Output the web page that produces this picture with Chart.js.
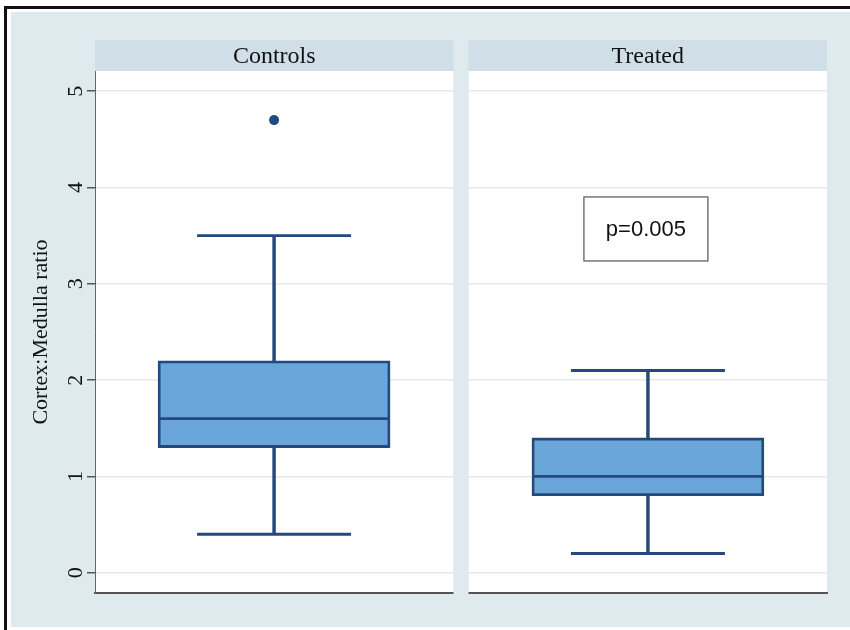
<!DOCTYPE html>
<html lang="en">
<head>
    <meta charset="UTF-8">
    <title>Cortex:Medulla ratio</title>
    <script src="https://cdn.jsdelivr.net/npm/chart.js"></script>
    <style>
        body { margin: 0; background: #fff; }
    </style>
</head>
<body>
    <canvas id="boxChart" width="850" height="630"></canvas>

    <script>
        // box plot values
        const categories = ['Controls', 'Treated'];
        const whiskerLow = [0.4, 0.2];
        const q1 = [1.3, 0.8];
        const median = [1.6, 1.0];
        const q3 = [2.2, 1.4];
        const whiskerHigh = [3.5, 2.1];
        const outliers = [[4.7], []];
        const yTicks = [0, 1, 2, 3, 4, 5];
        const yTitle = 'Cortex:Medulla ratio';
        const pValueText = 'p=0.005';

        const navy = '#26497c';
        const boxFill = '#6aa6da';
        const pageBg = '#dfeaee';
        const stripBg = '#d0dfe7';

        const idx = categories.map((c, i) => i);

        const stataPanels = {
            id: 'stataPanels',
            panels(chart) {
                const a = chart.chartArea;
                const mid = chart.scales.x.getPixelForValue(0.5);
                return [[a.left, mid - 7.5], [mid + 7.5, a.right]];
            },
            beforeDraw(chart) {
                const ctx = chart.ctx;
                const a = chart.chartArea;
                ctx.save();
                ctx.fillStyle = '#fff';
                ctx.fillRect(0, 0, chart.width, chart.height);
                ctx.fillStyle = '#111';
                ctx.fillRect(4, 6, 3, chart.height - 6);
                ctx.fillRect(4, 6, chart.width - 4, 3);
                ctx.fillStyle = pageBg;
                ctx.fillRect(11, 12, chart.width - 11, 615);
                this.panels(chart).forEach(([l, r]) => {
                    ctx.fillStyle = '#fff';
                    ctx.fillRect(l, a.top, r - l, a.bottom - a.top);
                    ctx.fillStyle = stripBg;
                    ctx.fillRect(l, 40, r - l, a.top - 40);
                });
                ctx.restore();
            },
            beforeDatasetsDraw(chart) {
                const ctx = chart.ctx;
                const a = chart.chartArea;
                const [p1, p2] = this.panels(chart);
                ctx.save();
                ctx.fillStyle = pageBg;
                ctx.fillRect(p1[1], a.top, p2[0] - p1[1], a.bottom - a.top + 4);
                ctx.restore();
            },
            afterDraw(chart) {
                const ctx = chart.ctx;
                const a = chart.chartArea;
                const y = chart.scales.y;
                const x = chart.scales.x;
                ctx.save();
                ctx.fillStyle = '#111';
                ctx.textAlign = 'center';
                ctx.textBaseline = 'middle';

                // strip labels
                ctx.font = '24px "Liberation Serif", serif';
                this.panels(chart).forEach(([l, r], i) => {
                    ctx.fillText(categories[i], (l + r) / 2, (40 + a.top) / 2 + 1);
                });

                // rotated tick labels
                ctx.font = '22px "Liberation Serif", serif';
                yTicks.forEach(v => {
                    ctx.save();
                    ctx.translate(76, y.getPixelForValue(v));
                    ctx.rotate(-Math.PI / 2);
                    ctx.fillText(String(v), 0, 0);
                    ctx.restore();
                });

                // axis title
                ctx.font = '22px "Liberation Serif", serif';
                ctx.save();
                ctx.translate(41, (a.top + a.bottom) / 2);
                ctx.rotate(-Math.PI / 2);
                ctx.fillText(yTitle, 0, 0);
                ctx.restore();

                // p-value box in the Treated panel
                const cx = x.getPixelForValue(1) - 2;
                const cy = y.getPixelForValue(3.57);
                ctx.fillStyle = '#fff';
                ctx.fillRect(cx - 62, cy - 32, 124, 64);
                ctx.strokeStyle = '#555';
                ctx.lineWidth = 1.2;
                ctx.strokeRect(cx - 62, cy - 32, 124, 64);
                ctx.fillStyle = '#111';
                ctx.font = '22px "Liberation Sans", Arial, sans-serif';
                ctx.fillText(pValueText, cx, cy + 1);
                ctx.restore();
            }
        };

        const ctx = document.getElementById('boxChart').getContext('2d');
        const boxChart = new Chart(ctx, {
            type: 'bar',
            data: {
                datasets: [{
                    label: 'whiskers',
                    data: idx.map(i => ({ x: i, y: [whiskerLow[i], whiskerHigh[i]] })),
                    backgroundColor: navy,
                    borderWidth: 0,
                    barThickness: 2.8,
                    grouped: false,
                    order: 3
                }, {
                    label: 'box',
                    data: idx.map(i => ({ x: i, y: [q1[i], q3[i]] })),
                    backgroundColor: boxFill,
                    borderColor: navy,
                    borderWidth: 2.8,
                    borderSkipped: false,
                    barThickness: 232,
                    grouped: false,
                    order: 2
                }, {
                    type: 'scatter',
                    label: 'median',
                    data: idx.map(i => ({ x: i, y: median[i] })),
                    pointStyle: 'line',
                    pointRadius: 115,
                    borderColor: navy,
                    borderWidth: 2.8,
                    order: 1
                }, {
                    type: 'scatter',
                    label: 'caps',
                    data: idx.flatMap(i => [{ x: i, y: whiskerLow[i] }, { x: i, y: whiskerHigh[i] }]),
                    pointStyle: 'line',
                    pointRadius: 77,
                    borderColor: navy,
                    borderWidth: 2.8,
                    order: 1
                }, {
                    type: 'scatter',
                    label: 'outliers',
                    data: idx.flatMap(i => outliers[i].map(v => ({ x: i, y: v }))),
                    pointStyle: 'circle',
                    pointRadius: 5,
                    backgroundColor: '#1f4b85',
                    borderColor: '#1f4b85',
                    borderWidth: 0,
                    order: 0
                }]
            },
            options: {
                responsive: false,
                animation: false,
                events: [],
                layout: {
                    autoPadding: false,
                    padding: { left: 7, right: 23, top: 71, bottom: 37 }
                },
                plugins: {
                    legend: { display: false },
                    tooltip: { enabled: false }
                },
                scales: {
                    x: {
                        type: 'linear',
                        min: -0.479,
                        max: 1.479,
                        offset: false,
                        ticks: { display: false },
                        grid: { display: false, offset: false },
                        border: { display: true, color: '#555', width: 2 },
                        afterFit(scale) { scale.height = 0; }
                    },
                    y: {
                        min: -0.21,
                        max: 5.21,
                        afterBuildTicks(scale) {
                            scale.ticks = yTicks.map(v => ({ value: v }));
                        },
                        ticks: { display: false },
                        grid: {
                            color: '#e1eaef',
                            lineWidth: 1.5,
                            tickColor: '#555',
                            tickLength: 8,
                            drawTicks: true
                        },
                        border: { display: true, color: '#666', width: 1 },
                        afterFit(scale) { scale.width = 88; }
                    }
                }
            },
            plugins: [stataPanels]
        });
    </script>
</body>
</html>
